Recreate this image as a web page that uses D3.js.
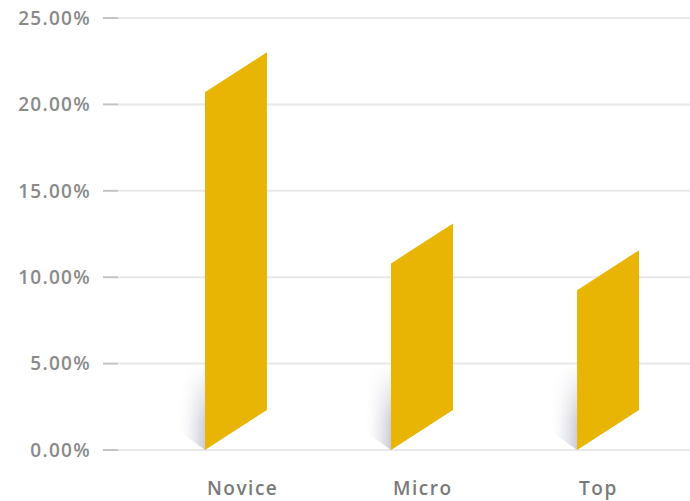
<!DOCTYPE html>
<html>
<head>
<meta charset="utf-8">
<script src="https://cdn.jsdelivr.net/npm/d3@7"></script>
<style>
  html, body { margin: 0; padding: 0; background: #fff; }
  svg { display: block; font-family: "Open Sans", "Noto Sans", sans-serif; }
</style>
</head>
<body>
<svg id="chart" width="690" height="501"></svg>
<script>
const categories = ["Novice", "Micro", "Top"];
const values = [20.7, 10.8, 9.25];
const yTicks = [0, 5, 10, 15, 20, 25];
const yTickLabels = ["0.00%", "5.00%", "10.00%", "15.00%", "20.00%", "25.00%"];

const svg = d3.select("#chart");
const W = 690;

const y = d3.scaleLinear().domain([0, 25]).range([450, 18]);
const x = d3.scaleBand().domain(categories).range([143, 701]).paddingInner(0.667).paddingOuter(0.333);

const skew = 40;

// defs: shadow gradients + mask
const defs = svg.append("defs");
const hgrad = defs.append("linearGradient").attr("id", "shadowH")
  .attr("x1", 0).attr("y1", 0).attr("x2", 1).attr("y2", 0);
hgrad.append("stop").attr("offset", 0).attr("stop-color", "#ffffff").attr("stop-opacity", 0);
hgrad.append("stop").attr("offset", 0.6).attr("stop-color", "#e0e0e8").attr("stop-opacity", 0.7);
hgrad.append("stop").attr("offset", 1).attr("stop-color", "#c8c9d4").attr("stop-opacity", 1);

const vgrad = defs.append("linearGradient").attr("id", "shadowV")
  .attr("x1", 0).attr("y1", 1).attr("x2", 0).attr("y2", 0);
vgrad.append("stop").attr("offset", 0).attr("stop-color", "#fff");
vgrad.append("stop").attr("offset", 0.35).attr("stop-color", "#ddd");
vgrad.append("stop").attr("offset", 1).attr("stop-color", "#000");
const mask = defs.append("mask").attr("id", "shadowMask")
  .attr("maskContentUnits", "objectBoundingBox");
mask.append("rect").attr("x", 0).attr("y", 0).attr("width", 1).attr("height", 1)
  .attr("fill", "url(#shadowV)");

// gridlines
const grid = svg.append("g");
grid.selectAll("line.grid").data(yTicks).join("line")
  .attr("class", "grid")
  .attr("x1", 118).attr("x2", W)
  .attr("y1", d => y(d)).attr("y2", d => y(d))
  .attr("stroke", "#e8e8e8").attr("stroke-width", 2);
grid.selectAll("line.tick").data(yTicks).join("line")
  .attr("class", "tick")
  .attr("x1", 103).attr("x2", 118)
  .attr("y1", d => y(d)).attr("y2", d => y(d))
  .attr("stroke", "#c4c4c4").attr("stroke-width", 2);
grid.selectAll("text").data(yTicks).join("text")
  .attr("x", 91).attr("y", d => y(d))
  .attr("dy", "0.36em")
  .attr("text-anchor", "end")
  .attr("fill", "#8a8a8a")
  .attr("font-size", 19)
  .attr("font-weight", 600)
  .attr("letter-spacing", 1.3)
  .text((d, i) => yTickLabels[i]);

// shadows
const bars = svg.append("g");
const data = categories.map((c, i) => ({ c, v: values[i] }));
bars.selectAll("path.shadow").data(data).join("path")
  .attr("class", "shadow")
  .attr("d", d => {
    const x0 = x(d.c), y0 = y(0);
    return `M${x0},${y0} L${x0 - 28},${y0 - 20} L${x0 - 28},${y0 - 85} L${x0},${y0 - 85} Z`;
  })
  .attr("fill", "url(#shadowH)")
  .attr("mask", "url(#shadowMask)");

// bars (parallelograms)
bars.selectAll("path.bar").data(data).join("path")
  .attr("class", "bar")
  .attr("d", d => {
    const x0 = x(d.c), w = x.bandwidth();
    const yb = y(0), yt = y(d.v);
    return `M${x0},${yb} L${x0},${yt} L${x0 + w},${yt - skew} L${x0 + w},${yb - skew} Z`;
  })
  .attr("fill", "#e9b504");

// category labels
svg.append("g").selectAll("text").data(categories).join("text")
  .attr("x", d => x(d) + 2)
  .attr("y", 495)
  .attr("fill", "#7a7a7a")
  .attr("font-size", 19)
  .attr("font-weight", 600)
  .attr("letter-spacing", 1.5)
  .text(d => d);
</script>
</body>
</html>
